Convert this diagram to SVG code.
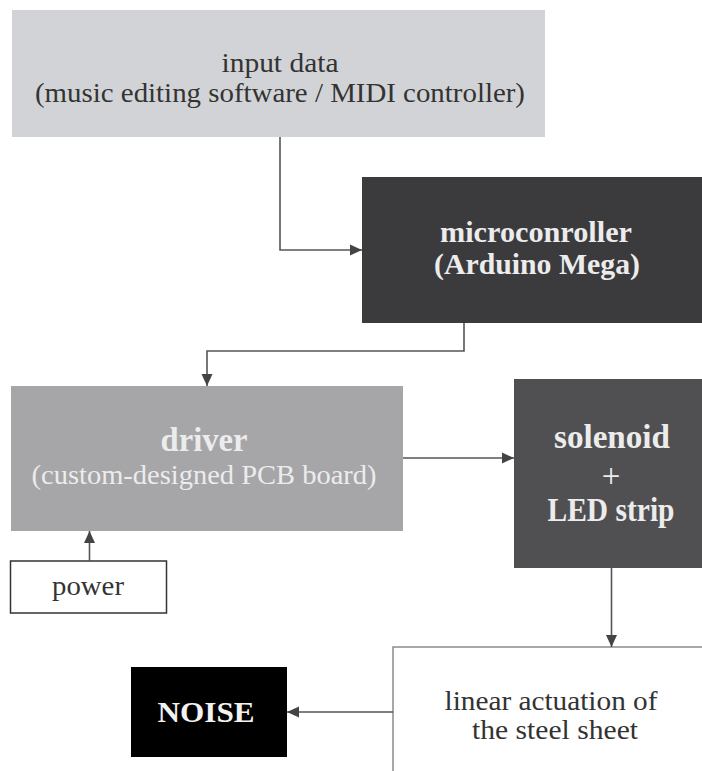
<svg xmlns="http://www.w3.org/2000/svg" width="702" height="771" viewBox="0 0 702 771">
  <style>
    text { font-family: "Liberation Serif", "DejaVu Serif", serif; text-anchor: middle; }
    .reg { font-size: 28px; }
    .bold { font-size: 30px; font-weight: bold; }
    .big { font-size: 33px; }
    .dark { fill: #333333; }
    .light { fill: #ececec; }
    .conn { fill: none; stroke: #555555; stroke-width: 1.6; }
  </style>
  <defs>
    <marker id="arrow" markerUnits="userSpaceOnUse" markerWidth="14" markerHeight="14" viewBox="0 0 14 14" refX="13" refY="7" orient="auto">
      <path d="M1,1.5 L13,7 L1,12.5 Z" fill="#444444"/>
    </marker>
  </defs>

  <rect width="702" height="771" fill="#ffffff"/>

  <g id="input-data">
    <rect x="12" y="10" width="533" height="127" fill="#d2d3d6"/>
    <text class="reg dark" x="280" y="72" textLength="117" lengthAdjust="spacingAndGlyphs">input data</text>
    <text class="reg dark" x="280" y="102" textLength="490" lengthAdjust="spacingAndGlyphs">(music editing software / MIDI controller)</text>
  </g>

  <g id="microcontroller">
    <rect x="362" y="177" width="340" height="146" fill="#3b3b3d"/>
    <text class="bold light" x="536" y="242" textLength="192" lengthAdjust="spacingAndGlyphs">microconroller</text>
    <text class="bold light" x="537" y="274" textLength="206" lengthAdjust="spacingAndGlyphs">(Arduino Mega)</text>
  </g>

  <g id="driver">
    <rect x="11" y="386" width="392" height="145" fill="#a6a6a8"/>
    <text class="bold big light" x="204" y="451" textLength="87" lengthAdjust="spacingAndGlyphs">driver</text>
    <text class="reg light" x="204" y="484" textLength="345" lengthAdjust="spacingAndGlyphs">(custom-designed PCB board)</text>
  </g>

  <g id="solenoid">
    <rect x="514" y="379" width="188" height="189" fill="#505052"/>
    <text class="bold big light" x="612" y="448" textLength="116" lengthAdjust="spacingAndGlyphs">solenoid</text>
    <text class="reg big light" x="611" y="487">+</text>
    <text class="bold big light" x="611" y="521" textLength="127" lengthAdjust="spacingAndGlyphs">LED strip</text>
  </g>

  <g id="power">
    <rect x="10.5" y="561" width="156" height="52" fill="#ffffff" stroke="#333333" stroke-width="1.5"/>
    <text class="reg dark" x="88" y="595" textLength="72" lengthAdjust="spacingAndGlyphs">power</text>
  </g>

  <g id="linear-actuation">
    <rect x="393" y="647" width="400" height="200" fill="#ffffff" stroke="#8c8c8c" stroke-width="1.5"/>
    <text class="reg dark" x="551" y="710" textLength="213" lengthAdjust="spacingAndGlyphs">linear actuation of</text>
    <text class="reg dark" x="555" y="739" textLength="166" lengthAdjust="spacingAndGlyphs">the steel sheet</text>
  </g>

  <g id="noise">
    <rect x="131" y="667" width="156" height="90" fill="#000000"/>
    <text class="bold" x="206" y="722" fill="#f2f2f2" textLength="97" lengthAdjust="spacingAndGlyphs">NOISE</text>
  </g>

  <g id="connectors">
    <path class="conn" d="M280,137 V250 H362" marker-end="url(#arrow)"/>
    <path class="conn" d="M464,323 V351 H207 V386" marker-end="url(#arrow)"/>
    <path class="conn" d="M403,458 H514" marker-end="url(#arrow)"/>
    <path class="conn" d="M89.5,561 V531" marker-end="url(#arrow)"/>
    <path class="conn" d="M611.5,568 V647" marker-end="url(#arrow)"/>
    <path class="conn" d="M393,712 H287" marker-end="url(#arrow)"/>
  </g>
</svg>
